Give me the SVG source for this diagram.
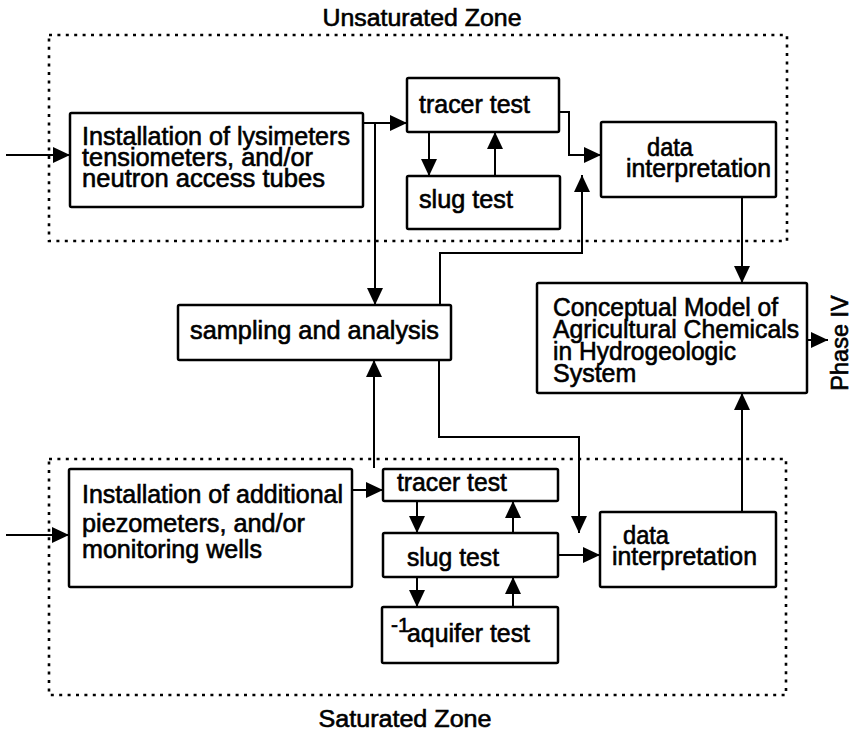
<svg xmlns="http://www.w3.org/2000/svg" width="853" height="734" viewBox="0 0 853 734">
<defs>
<marker id="ah" markerUnits="userSpaceOnUse" markerWidth="17" markerHeight="16" refX="17" refY="8" orient="auto" viewBox="0 0 17 16">
<path d="M0,0 L17,8 L0,16 Z" fill="#000"/>
</marker>
<style>
.box{fill:#fff;stroke:#000;stroke-width:2.5}
.zone{fill:none;stroke:#000;stroke-width:2.6;stroke-dasharray:3 5.4}
.c{fill:none;stroke:#000;stroke-width:2;marker-end:url(#ah)}
text{font-family:"Liberation Sans",Arial,sans-serif;font-size:25px;fill:#000;stroke:#000;stroke-width:0.6}
.t{font-size:23.5px}
</style>
</defs>
<rect width="853" height="734" fill="#fff"/>
<g id="zones">
<rect class="zone" x="49" y="35" width="738" height="206"/>
<rect class="zone" x="49" y="459" width="737" height="236"/>
<text class="t" x="422" y="26" text-anchor="middle" textLength="199" lengthAdjust="spacingAndGlyphs">Unsaturated Zone</text>
<text class="t" x="405" y="727" text-anchor="middle" textLength="173" lengthAdjust="spacingAndGlyphs">Saturated Zone</text>
<text class="t" transform="translate(848,343) rotate(-90)" text-anchor="middle">Phase IV</text>
</g>
<g id="connectors">
<path class="c" d="M6,155 H70"/>
<path class="c" d="M363,123 H407"/>
<path class="c" d="M375,123 V305"/>
<path class="c" d="M429,132 V176"/>
<path class="c" d="M495,176 V132"/>
<path class="c" d="M560,112 H569 V155 H601"/>
<path class="c" d="M440,305 V253 H582 V175"/>
<path class="c" d="M742,197 V283"/>
<path class="c" d="M807,340 H828"/>
<path class="c" d="M439,360 V437 H579 V533"/>
<path class="c" d="M374,468 V360"/>
<path class="c" d="M6,535 H69"/>
<path class="c" d="M352,490 H383"/>
<path class="c" d="M417,501 V533"/>
<path class="c" d="M513,533 V501"/>
<path class="c" d="M417,577 V607"/>
<path class="c" d="M513,607 V577"/>
<path class="c" d="M558,555 H600"/>
<path class="c" d="M742,512 V393"/>
</g>
<g id="install-unsat">
<rect class="box" x="70" y="113" width="293" height="94" rx="1.5"/>
<text x="82" y="145" textLength="268" lengthAdjust="spacingAndGlyphs">Installation of lysimeters</text>
<text x="82" y="166" textLength="231" lengthAdjust="spacingAndGlyphs">tensiometers, and/or</text>
<text x="82" y="187" textLength="243" lengthAdjust="spacingAndGlyphs">neutron access tubes</text>
</g>
<g id="tracer-unsat">
<rect class="box" x="407" y="78" width="152" height="54" rx="1.5"/>
<text x="419" y="113" textLength="111" lengthAdjust="spacingAndGlyphs">tracer test</text>
</g>
<g id="slug-unsat">
<rect class="box" x="407" y="176" width="153" height="53" rx="1.5"/>
<text x="419" y="208" textLength="94" lengthAdjust="spacingAndGlyphs">slug test</text>
</g>
<g id="data-unsat">
<rect class="box" x="601" y="122" width="175" height="75" rx="1.5"/>
<text x="647" y="156" textLength="46" lengthAdjust="spacingAndGlyphs">data</text>
<text x="626" y="177" textLength="145" lengthAdjust="spacingAndGlyphs">interpretation</text>
</g>
<g id="sampling">
<rect class="box" x="178" y="305" width="273" height="55" rx="1.5"/>
<text x="190" y="339" textLength="249" lengthAdjust="spacingAndGlyphs">sampling and analysis</text>
</g>
<g id="conceptual">
<rect class="box" x="537" y="283" width="270" height="110" rx="1.5"/>
<text x="553" y="316" textLength="225" lengthAdjust="spacingAndGlyphs">Conceptual Model of</text>
<text x="553" y="338" textLength="246" lengthAdjust="spacingAndGlyphs">Agricultural Chemicals</text>
<text x="553" y="360" textLength="183" lengthAdjust="spacingAndGlyphs">in Hydrogeologic</text>
<text x="553" y="382">System</text>
</g>
<g id="install-sat">
<rect class="box" x="69" y="469" width="283" height="118" rx="1.5"/>
<text x="82" y="503" textLength="261" lengthAdjust="spacingAndGlyphs">Installation of additional</text>
<text x="82" y="532" textLength="223" lengthAdjust="spacingAndGlyphs">piezometers, and/or</text>
<text x="82" y="558" textLength="180" lengthAdjust="spacingAndGlyphs">monitoring wells</text>
</g>
<g id="tracer-sat">
<rect class="box" x="383" y="469" width="175" height="32" rx="1.5"/>
<text x="397" y="491" textLength="110" lengthAdjust="spacingAndGlyphs">tracer test</text>
</g>
<g id="slug-sat">
<rect class="box" x="383" y="533" width="175" height="44" rx="1.5"/>
<text x="407" y="566" textLength="92" lengthAdjust="spacingAndGlyphs">slug test</text>
</g>
<g id="aquifer-sat">
<rect class="box" x="382" y="607" width="176" height="56" rx="1.5"/>
<text x="391" y="632" style="font-size:21px">-1</text>
<text x="407" y="642" textLength="123" lengthAdjust="spacingAndGlyphs">aquifer test</text>
</g>
<g id="data-sat">
<rect class="box" x="600" y="512" width="176" height="75" rx="1.5"/>
<text x="623" y="544" textLength="46" lengthAdjust="spacingAndGlyphs">data</text>
<text x="612" y="565" textLength="145" lengthAdjust="spacingAndGlyphs">interpretation</text>
</g>
</svg>
